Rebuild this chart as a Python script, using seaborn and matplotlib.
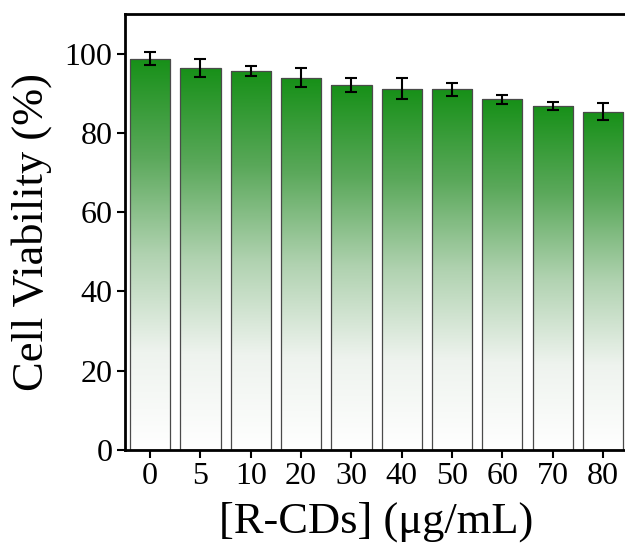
import numpy as np
import pandas as pd
import matplotlib
matplotlib.use("Agg")
import matplotlib.pyplot as plt
import seaborn as sns
from matplotlib.colors import LinearSegmentedColormap

concentrations = ["0", "5", "10", "20", "30", "40", "50", "60", "70", "80"]
viability = [98.8, 96.5, 95.6, 93.9, 92.1, 91.2, 91.0, 88.5, 86.9, 85.4]
errors = [1.6, 2.3, 1.2, 2.4, 1.8, 2.7, 1.7, 1.1, 1.0, 2.2]

sns.set_style("ticks")
plt.rcParams["font.family"] = ["Liberation Serif", "DejaVu Serif"]
plt.rcParams["text.color"] = "black"
plt.rcParams["axes.labelcolor"] = "black"

df = pd.DataFrame({"conc": concentrations, "viab": viability})

fig = plt.figure(figsize=(6.25, 5.46), dpi=100)
ax = fig.add_axes([0.2, 0.176, 0.805, 0.798])

sns.barplot(data=df, x="conc", y="viab", order=concentrations, ax=ax,
            color="#1a8c1a", width=0.8, errorbar=None,
            edgecolor="#4a4a4a", linewidth=0.9)

cmap = LinearSegmentedColormap.from_list(
    "g", [(0.0, "#ffffff"), (0.25, "#eef3ee"), (0.5, "#b0d2b0"),
          (0.75, "#5aa85a"), (1.0, "#179018")])
grad = np.linspace(0, 1, 256).reshape(-1, 1)
for p in ax.patches:
    x0, y0 = p.get_x(), p.get_y()
    w, h = p.get_width(), p.get_height()
    im = ax.imshow(grad, cmap=cmap, aspect="auto", origin="lower",
                   extent=[x0, x0 + w, y0, y0 + h], zorder=p.get_zorder(),
                   interpolation="bicubic")
    im.set_clip_path(p)
    p.set_facecolor("none")
    p.set_zorder(p.get_zorder() + 0.5)

ax.errorbar(np.arange(len(concentrations)), viability, yerr=errors, fmt="none",
            ecolor="black", elinewidth=1.5, capsize=4, capthick=1.5, zorder=5)

ax.set_xlim(-0.5, len(concentrations) - 0.5)
ax.set_ylim(0, 110)
ax.set_yticks([0, 20, 40, 60, 80, 100])
ax.set_xlabel("[R-CDs] (μg/mL)", fontsize=32, labelpad=7)
ax.set_ylabel("Cell Viability (%)", fontsize=32, labelpad=9)
ax.tick_params(axis="both", labelsize=23, direction="out", length=6, width=1.5,
               color="black", labelcolor="black", pad=3)
for s in ["left", "bottom", "top"]:
    ax.spines[s].set_linewidth(2)
    ax.spines[s].set_color("black")
ax.spines["right"].set_visible(False)

fig.savefig("out.png", dpi=100)
